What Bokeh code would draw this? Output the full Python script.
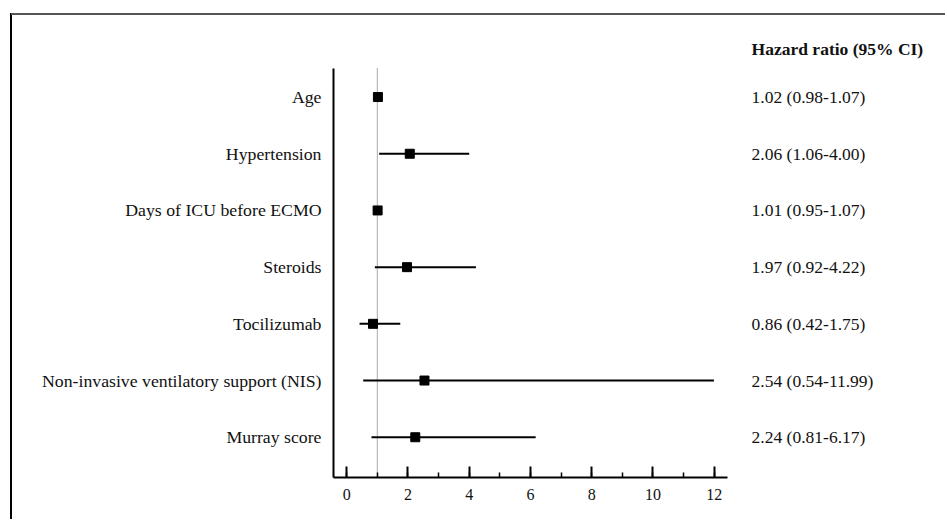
from bokeh.plotting import figure
from bokeh.models import (Range1d, FixedTicker, SingleIntervalTicker, ColumnDataSource,
                          InlineStyleSheet)
from bokeh.core.properties import value
from bokeh.embed import file_html
from bokeh.resources import INLINE

# ---- data ----
labels = ["Age", "Hypertension", "Days of ICU before ECMO", "Steroids",
          "Tocilizumab", "Non-invasive ventilatory support (NIS)", "Murray score"]
hr = [1.02, 2.06, 1.01, 1.97, 0.86, 2.54, 2.24]
ci_low = [0.98, 1.06, 0.95, 0.92, 0.42, 0.54, 0.81]
ci_high = [1.07, 4.00, 1.07, 4.22, 1.75, 11.99, 6.17]
hr_text = ["1.02 (0.98-1.07)", "2.06 (1.06-4.00)", "1.01 (0.95-1.07)", "1.97 (0.92-4.22)",
           "0.86 (0.42-1.75)", "2.54 (0.54-11.99)", "2.24 (0.81-6.17)"]
header = "Hazard ratio (95% CI)"
null_value = 1
x_ticks_interval = 2

n = len(labels)
ypos = [n - 1 - i for i in range(n)]

FONT = "Liberation Serif"
XB = (-0.43, 12.43)
YB = (-0.71, 6.51)
TEXT_X = 13.22

frame_css = InlineStyleSheet(css="""
:host {
  background:
    linear-gradient(#555555, #555555) 11px 13px / 934px 2px no-repeat,
    linear-gradient(#000000, #000000) 10px 13px / 2px 506px no-repeat,
    #ffffff;
}
""")

p = figure(output_backend="svg", toolbar_location=None,
           x_range=Range1d(-0.43, 19.55), y_range=Range1d(-0.71, 7.35),
           min_border_left=333, min_border_right=0, min_border_top=20, min_border_bottom=42)
p.frame_width = 612
p.frame_height = 457
p.stylesheets = [frame_css]
p.outline_line_color = None
p.xgrid.visible = False
p.ygrid.visible = False
p.background_fill_color = None
p.border_fill_color = None

# x axis
xa = p.xaxis[0]
xa.ticker = SingleIntervalTicker(interval=x_ticks_interval, num_minor_ticks=2)
xa.bounds = XB
xa.axis_line_width = 2
xa.axis_line_color = "black"
xa.major_tick_in = 11
xa.major_tick_out = 0
xa.minor_tick_in = 5
xa.minor_tick_out = 0
xa.major_tick_line_width = 2
xa.minor_tick_line_width = 1.5
xa.major_tick_line_color = "black"
xa.minor_tick_line_color = "black"
xa.major_label_text_font = FONT
xa.major_label_text_font_size = "16px"
xa.major_label_text_color = "#111111"
xa.major_label_standoff = 11

# y axis
ya = p.yaxis[0]
ya.ticker = FixedTicker(ticks=ypos)
ya.major_label_overrides = {y: lab for y, lab in zip(ypos, labels)}
ya.bounds = YB
ya.axis_line_width = 2
ya.axis_line_color = "black"
ya.major_tick_line_color = None
ya.minor_tick_line_color = None
ya.major_label_text_font = FONT
ya.major_label_text_font_size = "17.75px"
ya.major_label_text_color = "#111111"
ya.major_label_standoff = 6

src = ColumnDataSource(dict(y=ypos, hr=hr, lo=ci_low, hi=ci_high, txt=hr_text,
                            tx=[TEXT_X] * n))

# null line
p.segment(x0=[null_value], y0=[YB[0] - 0.07], x1=[null_value], y1=[YB[1]],
          line_color="#555555", line_width=1, line_dash="1 1")

p.segment(x0="lo", y0="y", x1="hi", y1="y", source=src, line_color="black", line_width=2)
p.scatter(x="hr", y="y", source=src, marker="square", size=9, color="black")

p.text(x="tx", y="y", text="txt", source=src, text_font=value(FONT),
       text_font_size="17.5px", text_baseline="middle", text_align="left", text_color="#111111")
p.text(x=[TEXT_X], y=[6.84], text=[header], text_font=value(FONT), text_font_style="bold",
       text_font_size="17.5px", text_baseline="middle", text_align="left", text_color="#111111")

open("out.html", "w").write(file_html(p, INLINE))
